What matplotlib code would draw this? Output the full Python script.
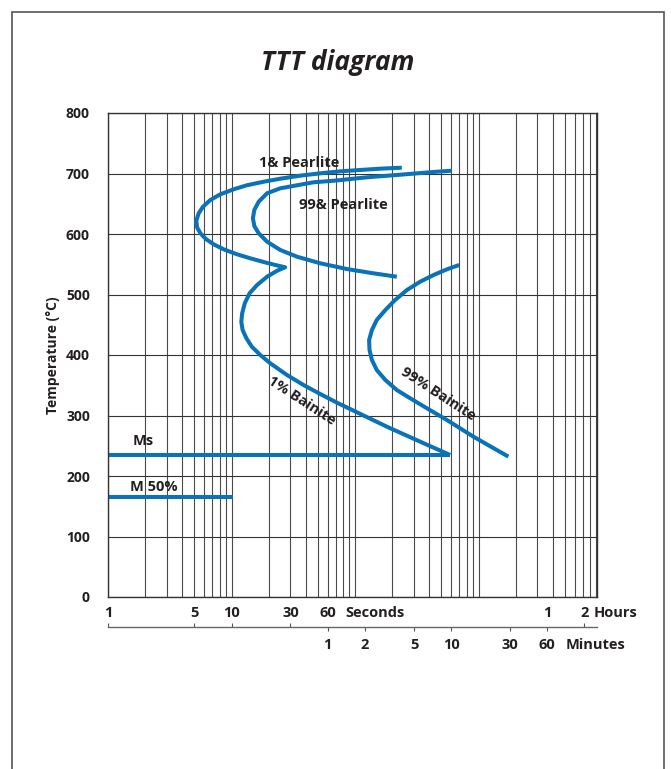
import matplotlib
matplotlib.use('Agg')
import matplotlib.pyplot as plt
from matplotlib.ticker import FixedLocator, NullFormatter
from matplotlib.patches import Rectangle

plt.rcParams['font.family'] = ['Open Sans', 'DejaVu Sans']
plt.rcParams['font.weight'] = 'bold'
txt_col = '#231f20'
blue = '#0a72b9'

# Curve data (time in seconds, temperature in degC)
p1_time = [239, 160, 110, 75.9, 52.3, 36.0, 24.8, 18.2, 13.3, 10.4, 8.12, 6.74, 5.88,
           5.42, 5.19, 5.26, 5.60, 6.25, 7.16, 8.63, 11.1, 14.2, 18.2, 22.6, 27.2,
           23.4, 19.4, 16.1, 14.0, 12.8, 12.2, 12.0, 12.3, 13.2, 14.6, 17.1, 20.6,
           28.1, 38.3, 52.3, 71.4, 97.3, 181, 337, 589]
p1_temp = [709.6, 708, 705.8, 703.6, 700.3, 696.4, 691.4, 686.4, 680.5, 673.9, 665.6,
           656.2, 645.1, 634.2, 622, 611, 601.2, 591.2, 583, 574.7, 566.4, 559.8,
           553.7, 548.8, 545, 539.3, 529.4, 515.7, 502, 485.5, 469, 455, 441.3,
           427.6, 413.7, 400, 386.3, 367, 350.4, 335.5, 321.2, 308, 281.5, 256.7, 234.7]

p99_time = [608, 432, 232, 125, 67, 46.2, 24.8, 19.4, 16.6, 15.3, 14.9, 15.3, 16.6,
            19.4, 24.8, 33.9, 52.3, 86, 141, 218]
p99_temp = [704.6, 702.5, 698, 693.7, 688, 685.5, 675.5, 667.3, 653.4, 639.7, 626,
            613.2, 601.2, 587.3, 573.6, 562.5, 551.6, 542.1, 535, 529.4]

b99_time = [697, 554, 432, 337, 263, 211, 176, 150, 137, 130, 131, 137, 150, 176,
            218, 280, 382, 554, 909, 1745]
b99_temp = [548.8, 541.6, 532.2, 521.2, 507.4, 490.9, 474.4, 457.9, 441.3, 424.8,
            408.3, 391.7, 375.2, 358.7, 342.1, 328.4, 311.9, 292.6, 265, 232]

ms_time = [1, 589]
ms_temp = [234, 234]
m50_time = [1, 10.3]
m50_temp = [165, 165]

y_ticks = [0, 100, 200, 300, 400, 500, 600, 700, 800]
sec_ticks = [1, 5, 10, 30, 60, 3600, 7200]
sec_labels = ['1', '5', '10', '30', '60', '1', '2']
min_ticks = [60, 120, 300, 600, 1800, 3600]
min_labels = ['1', '2', '5', '10', '30', '60']
grid_x = [m * 10 ** k for k in range(4) for m in range(1, 10)]

fig = plt.figure(figsize=(6.71, 7.69), dpi=100)
ax = fig.add_axes([108 / 671, 1 - 597 / 769, 489 / 671, 484 / 769])
ax.set_xscale('log')
ax.set_xlim(1, 9100)
ax.set_ylim(0, 800)

# grid
ax.set_yticks(y_ticks)
ax.xaxis.set_major_locator(FixedLocator(sec_ticks))
ax.xaxis.set_major_formatter(plt.FixedFormatter(sec_labels))
ax.xaxis.set_minor_locator(FixedLocator(grid_x))
ax.xaxis.set_minor_formatter(NullFormatter())
ax.xaxis.remove_overlapping_locs = False
ax.grid(False)
ax.grid(True, which='minor', axis='x', color='#4a4a4a', lw=0.8)
ax.grid(True, which='major', axis='y', color='#333333', lw=0.8)
ax.tick_params(which='both', length=0)
ax.tick_params(axis='y', pad=13, labelsize=10, labelcolor=txt_col)
ax.tick_params(axis='x', pad=6.5, labelsize=10.5, labelcolor=txt_col)
for lbl in ax.get_xticklabels() + ax.get_yticklabels():
    lbl.set_fontweight('bold')
for s in ax.spines.values():
    s.set_color('#333333')
    s.set_linewidth(1)

# curves
kw = dict(color=blue, lw=2.9, solid_capstyle='butt', solid_joinstyle='round')
ax.plot(p1_time, p1_temp, **kw)
ax.plot(p99_time, p99_temp, **kw)
ax.plot(b99_time, b99_temp, **kw)
ax.plot(ms_time, ms_temp, **kw)
ax.plot(m50_time, m50_temp, **kw)

# curve labels
lab = dict(fontsize=10.5, fontweight='bold', color=txt_col, ha='center', va='center')
ax.text(35, 718, '1& Pearlite', **lab)
ax.text(80, 648, '99& Pearlite', **lab)
ax.text(37, 324, '1% Bainite', rotation=-33, rotation_mode='anchor', **lab)
ax.text(474, 335, '99% Bainite', rotation=-33, rotation_mode='anchor', **lab)
ax.text(1.93, 258, 'Ms', **lab)
ax.text(2.36, 182, 'M 50%', **lab)

# seconds / hours words after tick labels
wkw = dict(textcoords='offset points', ha='left', va='top', fontsize=10.5,
           fontweight='bold', color=txt_col)
ax.annotate('Seconds', xy=(60, 0), xycoords=('data', 'axes fraction'),
            xytext=(12.5, -6.5), **wkw)
ax.annotate('Hours', xy=(7200, 0), xycoords=('data', 'axes fraction'),
            xytext=(6.5, -6.5), **wkw)

# minutes axis below
sec_pos = -0.061
sec = ax.secondary_xaxis(sec_pos)
sec.set_xticks(min_ticks, labels=min_labels)
sec.xaxis.set_minor_locator(FixedLocator([1, 5, 10, 30, 7200]))
sec.xaxis.set_minor_formatter(NullFormatter())
sec.tick_params(which='major', direction='out', length=3, width=0.8, color='#555555',
                pad=5.5, labelsize=10.5, labelcolor=txt_col)
sec.tick_params(which='minor', direction='in', length=3, width=0.8, color='#555555')
for lbl in sec.get_xticklabels():
    lbl.set_fontweight('bold')
sec.spines['bottom'].set_color('#666666')
sec.spines['bottom'].set_linewidth(1)
ax.annotate('Minutes', xy=(3600, sec_pos), xycoords=('data', 'axes fraction'),
            xytext=(13, -8.5), **wkw)

ax.set_ylabel('Temperature (°C)', fontsize=10, fontweight='bold', color=txt_col,
              va='center')
ax.yaxis.set_label_coords(-55.5 / 489, 0.5)

fig.text(0.503, 1 - 63 / 769, 'TTT diagram', fontsize=19, fontweight='bold',
         fontstyle='italic', ha='center', va='center', color=txt_col)

# outer frame
fig.add_artist(Rectangle((12 / 671, -0.05), 652 / 671, 1.05 - 12 / 769,
                         transform=fig.transFigure, fill=False, ec='#555555', lw=1.2))

fig.savefig('out.png', dpi=100)
